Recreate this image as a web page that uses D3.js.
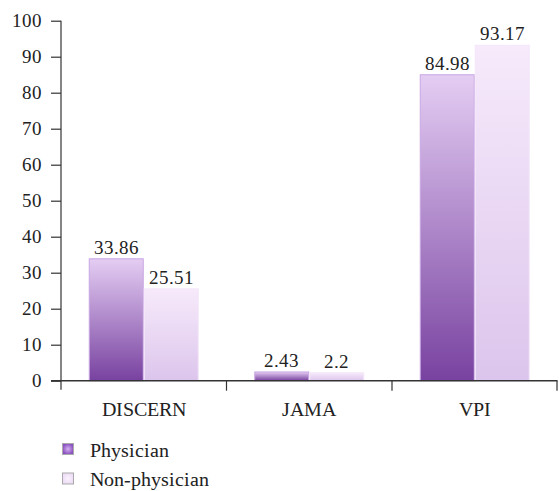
<!DOCTYPE html>
<html>
<head>
<meta charset="utf-8">
<script src="https://cdn.jsdelivr.net/npm/d3@7/dist/d3.min.js"></script>
<style>
  @font-face { font-family: "ChartSerif"; src: local("Liberation Serif"), local("LiberationSerif"), local("Times New Roman"); }
</style>
</head>
<body style="margin:0;padding:0;background:#fff">
<svg id="chart" width="559" height="491"></svg>
<script>
// Scores by assessment tool and uploader type
const categories = ["DISCERN", "JAMA", "VPI"];
const seriesNames = ["Physician", "Non-physician"];
const physician = [33.86, 2.43, 84.98];
const nonPhysician = [25.51, 2.2, 93.17];
const yTicks = [0, 10, 20, 30, 40, 50, 60, 70, 80, 90, 100];

const TEXT = "#222";
const FONT = "ChartSerif, 'Liberation Serif', serif";

const svg = d3.select("#chart");
const margin = { left: 61, right: 1.5, top: 20.7, bottom: 110.3 };
const W = 559, H = 491;
const x0 = margin.left, x1 = W - margin.right;
const yTop = margin.top, yBot = H - margin.bottom;

const defs = svg.append("defs");
function linGrad(id, top, bottom) {
  const g = defs.append("linearGradient").attr("id", id)
    .attr("x1", 0).attr("y1", 0).attr("x2", 0).attr("y2", 1);
  g.append("stop").attr("offset", "0%").attr("stop-color", top);
  g.append("stop").attr("offset", "100%").attr("stop-color", bottom);
}
linGrad("gPhys", "#e4cdf3", "#7842a0");
linGrad("gNon", "#f7eafb", "#dcc5ec");
function radGrad(id, inner, outer) {
  const g = defs.append("radialGradient").attr("id", id);
  g.append("stop").attr("offset", "0%").attr("stop-color", inner);
  g.append("stop").attr("offset", "100%").attr("stop-color", outer);
}
radGrad("rPhys", "#d6b3f0", "#8a50c0");
radGrad("rNon", "#fbf3fd", "#eddcf6");

function serif(sel, size) {
  sel.attr("font-family", FONT)
    .style("font-family", FONT)
    .style("font-size", size + "px")
    .style("fill", TEXT);
}

const x = d3.scaleBand().domain(categories).range([x0, x1]).paddingInner(0).paddingOuter(0);
// two bars per category, 55px each, centred in the band
const barW = 55;
const y = d3.scaleLinear().domain([0, 100]).range([yBot, yTop]);

const data = categories.map((c, i) => ({ cat: c, vals: [physician[i], nonPhysician[i]] }));

const fills = ["url(#gPhys)", "url(#gNon)"];
const strokes = ["#c9a6e4", "#f3e6f9"];

const groups = svg.append("g").selectAll("g").data(data).join("g")
  .attr("transform", d => `translate(${x(d.cat) + x.bandwidth() / 2 - barW},0)`);

groups.selectAll("rect").data(d => d.vals).join("rect")
  .attr("x", (v, j) => j * barW + 0.5)
  .attr("y", v => y(v))
  .attr("width", barW - 1)
  .attr("height", v => yBot - y(v))
  .attr("fill", (v, j) => fills[j])
  .attr("stroke", (v, j) => strokes[j])
  .attr("stroke-width", 1);

groups.selectAll("text.val").data(d => d.vals).join("text")
  .attr("class", "val")
  .attr("x", (v, j) => j * barW + barW / 2)
  .attr("y", v => y(v) - 5)
  .attr("text-anchor", "middle")
  .call(serif, 19)
  .text(v => v);

// y axis
const yAxis = d3.axisLeft(y).tickValues(yTicks).tickSize(10).tickPadding(9);
const gy = svg.append("g").attr("transform", `translate(${x0},0)`).call(yAxis);
gy.attr("font-family", FONT).attr("font-size", 19);
gy.select(".domain").attr("d", `M0,${yTop}V${yBot + 9}`)
  .attr("stroke", "#333").attr("stroke-width", 1.2);
gy.selectAll(".tick line").attr("stroke", "#333").attr("stroke-width", 1.2);
gy.selectAll(".tick text").call(serif, 19);

// x axis with ticks at category boundaries
const gx = svg.append("g").attr("transform", `translate(0,${yBot})`);
gx.append("line").attr("x1", x0 - 10).attr("x2", x1).attr("y1", 0).attr("y2", 0)
  .attr("stroke", "#333").attr("stroke-width", 1.4);
const bounds = categories.map(c => x(c) + x.bandwidth()).slice(0, -1).concat([x1 - 0.5]);
gx.selectAll("line.tk").data(bounds).join("line").attr("class", "tk")
  .attr("x1", d => d).attr("x2", d => d).attr("y1", 0).attr("y2", 10)
  .attr("stroke", "#333").attr("stroke-width", 1.2);
gx.selectAll("text").data(categories).join("text")
  .attr("x", d => x(d) + x.bandwidth() / 2)
  .attr("y", 35)
  .attr("text-anchor", "middle")
  .call(serif, 20)
  .text(d => d);

// legend
const legend = svg.append("g").attr("transform", "translate(62,443)");
const lg = legend.selectAll("g").data(seriesNames).join("g")
  .attr("transform", (d, i) => `translate(0,${i * 29.5})`);
lg.append("rect").attr("x", 0.5).attr("y", 0.5).attr("width", 11).attr("height", 11)
  .attr("fill", (d, i) => i === 0 ? "url(#rPhys)" : "url(#rNon)")
  .attr("stroke", "#aaa").attr("stroke-width", 1);
lg.append("text").attr("x", 28).attr("y", 13.5)
  .call(serif, 20)
  .text(d => d);
</script>
</body>
</html>
